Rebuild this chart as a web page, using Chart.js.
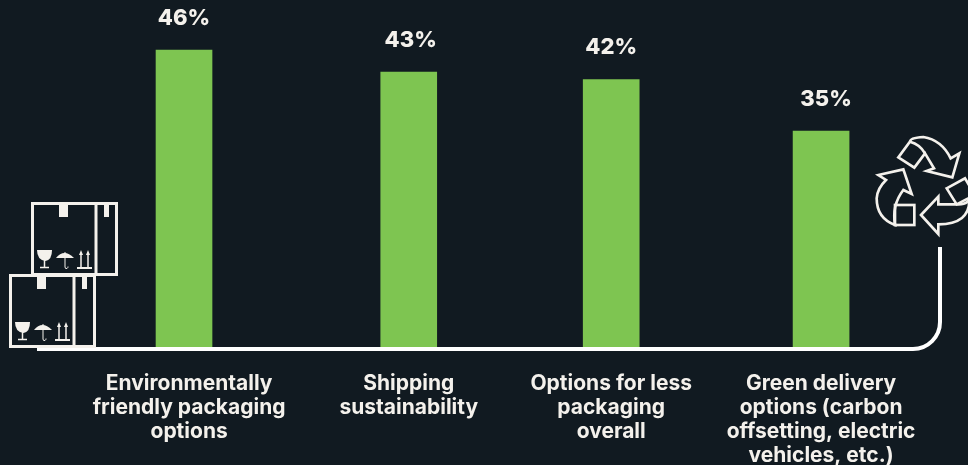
<!DOCTYPE html>
<html>
<head>
<meta charset="utf-8">
<style>
  html, body { margin: 0; padding: 0; background: #111a21; }
  #wrap { width: 968px; height: 465px; overflow: hidden; }
</style>
<script src="https://cdn.jsdelivr.net/npm/chart.js@4"></script>
</head>
<body>
<div id="wrap"><canvas id="chart" width="968" height="465"></canvas></div>
<script>
const categories = [
  ['Environmentally', 'friendly packaging', 'options'],
  ['Shipping', 'sustainability'],
  ['Options for less', 'packaging', 'overall'],
  ['Green delivery', 'options (carbon', 'offsetting, electric', 'vehicles, etc.)']
];
const values = [46, 43, 42, 35];
// the four groups are not evenly spaced in the source picture
const barSlots = [0, 1.06, 2.015, 3.005];
const labelSlots = [0.024, 1.06, 2.015, 3.005];

const GREEN = '#7ec551';
const INK = '#f4f1ec';
const FONT = 'Inter, sans-serif';
// the percentage labels sit a little off centre in the source
const valueLabelShift = [0, 2, 0, 5];

// one carton: outline, divider, tape and the three handling marks
function drawCarton(ctx, x, y) {
  ctx.save();
  ctx.translate(x, y);
  ctx.strokeStyle = INK;
  ctx.fillStyle = INK;
  ctx.lineWidth = 3;
  ctx.strokeRect(1.5, 1.5, 84, 71);
  ctx.beginPath();
  ctx.moveTo(65, 1);
  ctx.lineTo(65, 73);
  ctx.stroke();
  ctx.fillRect(28, 1, 9, 14);
  ctx.fillRect(73, 1, 5, 14);

  // glass
  ctx.beginPath();
  ctx.moveTo(6, 48);
  ctx.lineTo(21, 48);
  ctx.quadraticCurveTo(21, 58, 14.5, 59);
  ctx.quadraticCurveTo(6, 58, 6, 48);
  ctx.fill();
  ctx.lineWidth = 1.5;
  ctx.beginPath();
  ctx.moveTo(13.5, 58);
  ctx.lineTo(13.5, 65);
  ctx.moveTo(9, 65.5);
  ctx.lineTo(18, 65.5);
  ctx.stroke();

  // umbrella
  ctx.beginPath();
  ctx.moveTo(25, 56);
  ctx.quadraticCurveTo(33, 46, 43, 56);
  ctx.closePath();
  ctx.fill();
  ctx.lineWidth = 1;
  ctx.beginPath();
  ctx.moveTo(34, 50);
  ctx.lineTo(34, 65);
  ctx.quadraticCurveTo(34, 67, 36, 66.5);
  ctx.quadraticCurveTo(37, 66, 37, 64.5);
  ctx.stroke();

  // this way up
  ctx.lineWidth = 1.5;
  for (const ax of [50, 57]) {
    ctx.beginPath();
    ctx.moveTo(ax, 65);
    ctx.lineTo(ax, 51);
    ctx.stroke();
    ctx.beginPath();
    ctx.moveTo(ax - 2, 53);
    ctx.lineTo(ax, 48);
    ctx.lineTo(ax + 2, 53);
    ctx.closePath();
    ctx.fill();
  }
  ctx.lineWidth = 2;
  ctx.beginPath();
  ctx.moveTo(46, 66);
  ctx.lineTo(61, 66);
  ctx.stroke();
  ctx.restore();
}

function pathFrom(ctx, pts) {
  ctx.beginPath();
  pts.forEach((p, i) => {
    if (i === 0) ctx.moveTo(p[0], p[1]);
    else if (p.length === 4) ctx.quadraticCurveTo(p[0], p[1], p[2], p[3]);
    else ctx.lineTo(p[0], p[1]);
  });
  ctx.closePath();
  ctx.stroke();
}

function drawRecycle(ctx) {
  ctx.save();
  ctx.translate(860, 125);
  ctx.scale(1 / 3, 1 / 3);
  ctx.strokeStyle = INK;
  ctx.lineWidth = 8;
  ctx.lineJoin = 'miter';
  // top arrow
  pathFrom(ctx, [[115, 97], [163, 128], [195, 85], [222, 130], [200, 138], [277, 157], [298, 85], [272, 100],
    [245, 45, 190, 36], [150, 38, 150, 50]]);
  ctx.beginPath();
  ctx.moveTo(150, 50);
  ctx.quadraticCurveTo(180, 58, 195, 85);
  ctx.stroke();
  // left arrow
  pathFrom(ctx, [[55, 150], [130, 133], [155, 207], [130, 195], [95, 240, 105, 300], [50, 280, 50, 220], [52, 190, 78, 165]]);
  ctx.strokeRect(105, 240, 58, 60);
  // right arrow
  pathFrom(ctx, [[183, 270], [235, 215], [235, 238], [290, 238], [320, 240, 328, 222], [330, 298, 235, 298], [235, 327]]);
  pathFrom(ctx, [[260, 190], [315, 160], [345, 210], [290, 238]]);
  ctx.restore();
}

const decorations = {
  id: 'decorations',
  afterDatasetsDraw(chart) {
    const ctx = chart.ctx;
    const { bottom } = chart.chartArea;
    const meta = chart.getDatasetMeta(0);

    // percentage labels above the bars
    ctx.save();
    ctx.fillStyle = INK;
    ctx.font = '800 22px ' + FONT;
    ctx.textAlign = 'center';
    ctx.textBaseline = 'middle';
    meta.data.forEach((bar, i) => {
      ctx.fillText(values[i] + '%', bar.x + valueLabelShift[i], bar.y - 32);
    });
    ctx.restore();

    // baseline that turns up towards the recycling icon
    ctx.save();
    ctx.strokeStyle = '#ffffff';
    ctx.lineWidth = 4;
    ctx.beginPath();
    ctx.moveTo(37, bottom + 1);
    ctx.lineTo(913, bottom + 1);
    ctx.arcTo(940, bottom + 1, 940, bottom - 26, 27);
    ctx.lineTo(940, 247);
    ctx.stroke();
    ctx.restore();

    drawCarton(ctx, 31, 202);
    drawCarton(ctx, 9, 274);
    drawRecycle(ctx);
  }
};

new Chart(document.getElementById('chart'), {
  type: 'bar',
  data: {
    datasets: [{
      data: values.map((v, i) => ({ x: barSlots[i], y: v })),
      backgroundColor: GREEN,
      barThickness: 56
    }]
  },
  options: {
    responsive: false,
    animation: false,
    layout: { padding: 0 },
    plugins: {
      legend: { display: false },
      tooltip: { enabled: false }
    },
    scales: {
      x: {
        type: 'linear',
        offset: false,
        min: -0.868,
        max: 3.698,
        grid: { display: false },
        border: { display: false },
        afterBuildTicks: scale => {
          scale.ticks = labelSlots.map(value => ({ value }));
        },
        afterFit: scale => {
          scale.height = 117;
        },
        ticks: {
          autoSkip: false,
          maxRotation: 0,
          padding: 16,
          color: INK,
          font: { family: FONT, size: 21, weight: '700', lineHeight: 1.14 },
          callback: (value, index) => categories[index]
        }
      },
      y: {
        display: false,
        min: 5.5,
        max: 52.8
      }
    }
  },
  plugins: [decorations]
});
</script>
</body>
</html>
